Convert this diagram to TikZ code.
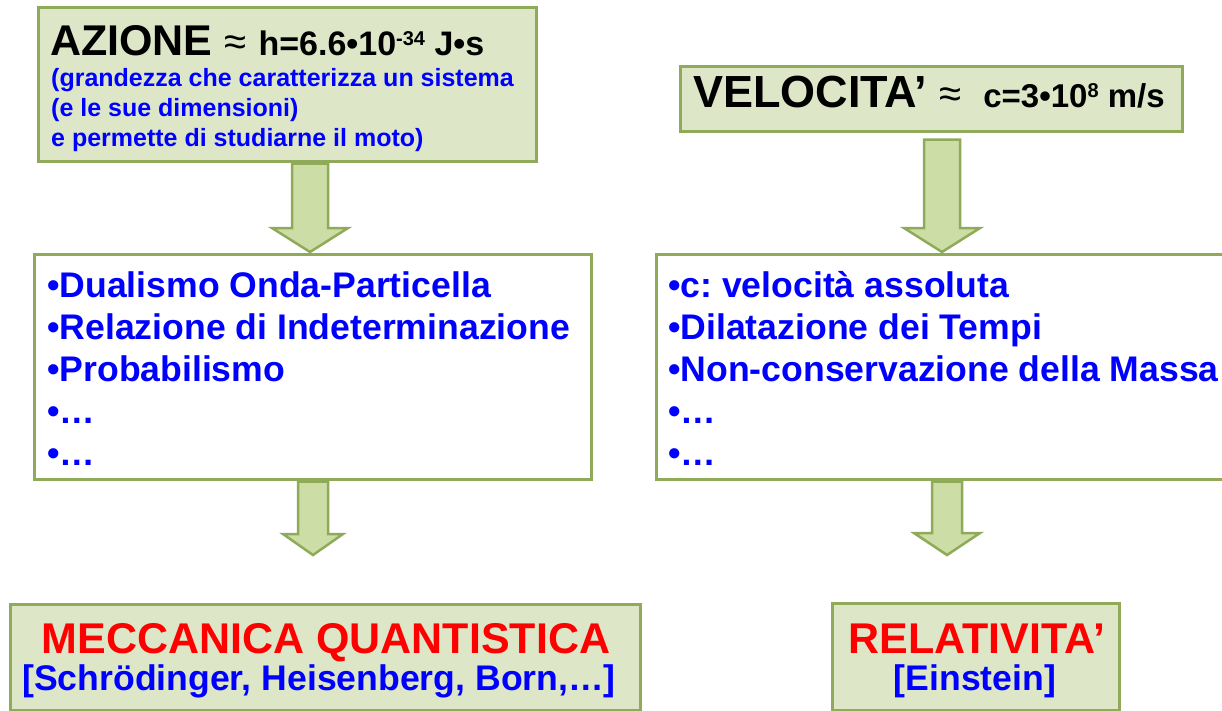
\documentclass[tikz,border=0pt]{standalone}
\usepackage{fontspec}
\setmainfont{Liberation Sans}
\usepackage{xcolor}
\usetikzlibrary{calc}

\definecolor{bordo}{RGB}{143,170,88}
\definecolor{sfondo}{RGB}{221,231,200}
\definecolor{verdefreccia}{RGB}{205,221,166}

\newcommand{\apice}[1]{\raisebox{10pt}{\fontsize{20}{20}\selectfont #1}}
% freccia: x, da, a, scarto alto, scarto basso, mezzo fusto, mezza testa, testa
\newcommand{\freccia}[8]{%
  \draw[blocco] let \p1=(#1 |- #2), \p2=(#1 |- #3) in
    (\x1-#6pt,\y1-#4pt) -- (\x1-#6pt,\y2+#5pt+#8pt) -- (\x1-#7pt,\y2+#5pt+#8pt)
    -- (\x1,\y2+#5pt) -- (\x1+#7pt,\y2+#5pt+#8pt) -- (\x1+#6pt,\y2+#5pt+#8pt)
    -- (\x1+#6pt,\y1-#4pt) -- cycle;}

\tikzset{
  scatola/.style={draw=bordo, line width=2.5pt, fill=sfondo, anchor=north west, inner sep=0pt},
  lista/.style={scatola, fill=white},
  blocco/.style={draw=bordo, line width=2.5pt, fill=verdefreccia, line join=miter},
  testo/.style={anchor=base west, inner sep=0pt},
  grande/.style={testo, font=\fontsize{43}{50}\selectfont\bfseries\frenchspacing},
  medio/.style={testo, text=blue, font=\fontsize{35.6}{42}\selectfont\bfseries\frenchspacing},
  piccolo/.style={testo, text=blue, font=\fontsize{25}{29}\selectfont\bfseries\frenchspacing},
}

\begin{document}
\begin{tikzpicture}[x=1pt,y=-1pt]
  \useasboundingbox (0,0) rectangle (1222,710);
  % scatole
  \node[scatola, minimum width=498pt, minimum height=154pt] (azione) at (37,6) {};
  \node[scatola, minimum width=502pt, minimum height=65pt] (velocita) at (679,65) {};
  \node[lista, minimum width=557pt, minimum height=225pt] (listaq) at (33,253) {};
  \node[lista, minimum width=600pt, minimum height=225pt] (listar) at (655,253) {};
  \node[scatola, minimum width=630pt, minimum height=106pt] (meccanica) at (9,603) {};
  \node[scatola, minimum width=287pt, minimum height=107pt] (relativita) at (831,602) {};

  % frecce
  \coordinate (fa) at (310,0);
  \coordinate (fb) at (942,0);
  \coordinate (fc) at (313,0);
  \coordinate (fd) at (947,0);
  \freccia{fa}{azione.south}{listaq.north}{1}{1}{18}{38}{24}
  \freccia{fb}{velocita.south}{listar.north}{7}{1}{18}{38}{24}
  \freccia{fc}{listaq.south}{meccanica.north}{1}{48}{15}{30}{21}
  \freccia{fd}{listar.south}{relativita.north}{1}{47}{15}{33}{22}

  % testi in alto
  \node[grande] (tazione) at (50,55) {AZIONE\hspace{12pt}{\fontsize{40}{40}\selectfont\mdseries ≈}\hspace{12pt}{\fontsize{34}{40}\selectfont
    h=6.6•10\apice{-34} J•s}};
  \node[piccolo] (a1) at (51,86) {(grandezza che caratterizza un sistema};
  \node[piccolo] (a2) at (51,116) {(e le sue dimensioni)};
  \node[piccolo] (a3) at (51,146) {e permette di studiarne il moto)};
  \node[grande, font=\fontsize{45}{50}\selectfont\bfseries] (tvelocita) at (693,107) {VELOCITA’\hspace{12pt}{\fontsize{40}{40}\selectfont\mdseries ≈}\hspace{22pt}{\fontsize{33}{40}\selectfont c=3•10\apice{8} m/s}};

  % elenchi
  \node[medio] (q1) at (47,297) {•Dualismo Onda-Particella};
  \node[medio] (q2) at (47,339) {•Relazione di Indeterminazione};
  \node[medio] (q3) at (47,381) {•Probabilismo};
  \node[medio] (q4) at (47,423) {•…};
  \node[medio] (q5) at (47,465) {•…};
  \node[medio] (r1) at (668,297) {•c: velocità assoluta};
  \node[medio] (r2) at (668,339) {•Dilatazione dei Tempi};
  \node[medio] (r3) at (668,381) {•Non-conservazione della Massa};
  \node[medio] (r4) at (668,423) {•…};
  \node[medio] (r5) at (668,465) {•…};

  % testi in basso
  \node[grande, anchor=base, text=red] (tmq) at (326,653) {MECCANICA QUANTISTICA};
  \node[medio, anchor=base] (tautori) at (319,690) {[Schrödinger, Heisenberg, Born,…]};
  \node[grande, anchor=base, text=red] (trel) at (977,653) {RELATIVITA’};
  \node[medio, anchor=base] (teinstein) at (975,690) {[Einstein]};
\end{tikzpicture}
\end{document}
